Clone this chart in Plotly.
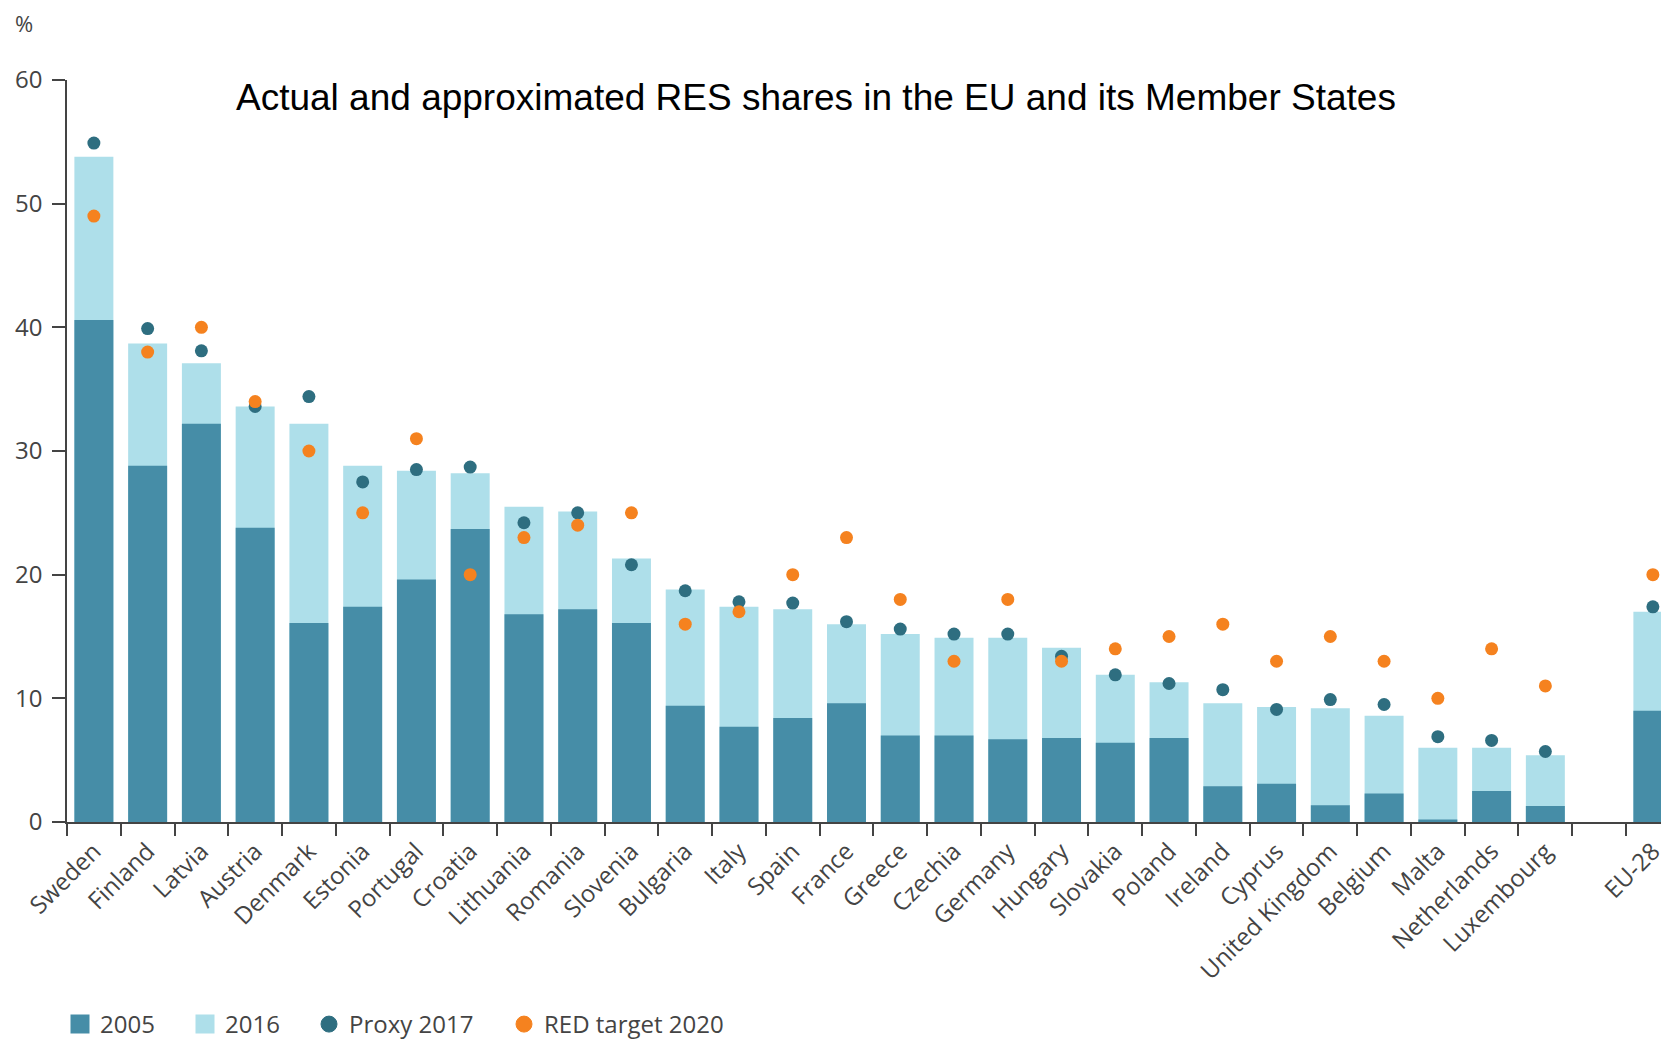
import plotly.graph_objects as go

countries = ["Sweden", "Finland", "Latvia", "Austria", "Denmark", "Estonia", "Portugal",
             "Croatia", "Lithuania", "Romania", "Slovenia", "Bulgaria", "Italy", "Spain",
             "France", "Greece", "Czechia", "Germany", "Hungary", "Slovakia", "Poland",
             "Ireland", "Cyprus", "United Kingdom", "Belgium", "Malta", "Netherlands",
             "Luxembourg", " ", "EU-28"]

res_2005 = [40.6, 28.8, 32.2, 23.8, 16.1, 17.4, 19.6, 23.7, 16.8, 17.2, 16.1, 9.4, 7.7, 8.4,
            9.6, 7.0, 7.0, 6.7, 6.8, 6.4, 6.8, 2.9, 3.1, 1.35, 2.3, 0.2, 2.5, 1.3, None, 9.0]

res_2016 = [53.8, 38.7, 37.1, 33.6, 32.2, 28.8, 28.4, 28.2, 25.5, 25.1, 21.3, 18.8, 17.4, 17.2,
            16.0, 15.2, 14.9, 14.9, 14.1, 11.9, 11.3, 9.6, 9.3, 9.2, 8.6, 6.0, 6.0, 5.4, None, 17.0]

proxy_2017 = [54.9, 39.9, 38.1, 33.6, 34.4, 27.5, 28.5, 28.7, 24.2, 25.0, 20.8, 18.7, 17.8, 17.7,
              16.2, 15.6, 15.2, 15.2, 13.4, 11.9, 11.2, 10.7, 9.1, 9.9, 9.5, 6.9, 6.6, 5.7, None, 17.4]

target_2020 = [49, 38, 40, 34, 30, 25, 31, 20, 23, 24, 25, 16, 17, 20, 23, 18, 13, 18, 13, 14,
               15, 16, 13, 15, 13, 10, 14, 11, None, 20]

y_ticks = [0, 10, 20, 30, 40, 50, 60]

C_2005 = "#468DA7"
C_2016 = "#AEDFEA"
C_PROXY = "#2E6E80"
C_TARGET = "#F5821F"

# page has an 8px body margin; compensate so the plot lands where the reference has it
OFF = 8
W, H = 1669 - OFF, 1041 - OFF
L, T = 67 - OFF, 80 - OFF
plot_h = 742
B = H - T - plot_h
plot_w = W - L


def px_x(xp):
    return (xp - 67) / plot_w


def px_y(yp):
    return (822 - yp) / plot_h


fig = go.Figure()
fig.add_trace(go.Bar(x=countries, y=res_2016, name="2016", marker_color=C_2016,
                     marker_line_width=0, showlegend=False))
fig.add_trace(go.Bar(x=countries, y=res_2005, name="2005", marker_color=C_2005,
                     marker_line_width=0, showlegend=False))
fig.add_trace(go.Scatter(x=countries, y=proxy_2017, name="Proxy 2017", mode="markers",
                         marker=dict(color=C_PROXY, size=13), showlegend=False))
fig.add_trace(go.Scatter(x=countries, y=target_2020, name="RED target 2020", mode="markers",
                         marker=dict(color=C_TARGET, size=13), showlegend=False))

# legend entries (one legend box per entry, placed like the reference)
legend_entries = [
    ("2005", C_2005, "square", "legend", 3),
    ("2016", C_2016, "square", "legend2", 3),
    ("Proxy 2017", C_PROXY, "circle", "legend3", 1),
    ("RED target 2020", C_TARGET, "circle", "legend4", 1),
]
for name, col, sym, lg, lw in legend_entries:
    fig.add_trace(go.Scatter(x=[None], y=[None], name=name, mode="markers",
                             marker=dict(color=col, size=16, symbol=sym,
                                         line=dict(color=col, width=lw)),
                             legend=lg, showlegend=True, hoverinfo="skip"))

legend_font = dict(family="Open Sans", size=24, color="#444444")
leg_y = px_y(1002)
leg_x_page = [60, 185, 309, 504]


def leg(xp):
    return dict(orientation="h", x=px_x(xp), xanchor="left", y=leg_y, yanchor="top",
                font=legend_font, bgcolor="rgba(0,0,0,0)", itemclick=False,
                itemdoubleclick=False, maxheight=200)


axis_font = dict(family="Open Sans", size=24, color="#444444")

fig.update_layout(
    width=W, height=H,
    margin=dict(l=L, r=0, t=T, b=B, pad=0, autoexpand=False),
    paper_bgcolor="white", plot_bgcolor="white",
    barmode="overlay", bargap=0.275,
    showlegend=True,
    legend=leg(leg_x_page[0]),
    legend2=leg(leg_x_page[1]),
    legend3=leg(leg_x_page[2]),
    legend4=leg(leg_x_page[3]),
    xaxis=dict(type="category", categoryorder="array", categoryarray=countries,
               range=[-0.5, 29.3], tickson="boundaries", ticks="outside", ticklen=12,
               tickcolor="#444444", tickwidth=1.5, showline=True, linecolor="#444444",
               linewidth=1.5, showgrid=False, tickangle=-45, tickfont=axis_font,
               ticklabelstandoff=4, zeroline=False, automargin=False),
    yaxis=dict(range=[0, 60], tickvals=y_ticks, ticks="outside", ticklen=13,
               tickcolor="#444444", tickwidth=1.5, showline=True, linecolor="#444444",
               linewidth=1.5, showgrid=False, zeroline=False, tickfont=axis_font,
               ticklabelstandoff=5, automargin=False),
    annotations=[
        dict(text="%", xref="paper", yref="paper", x=px_x(24), y=px_y(23),
             showarrow=False, xanchor="center", yanchor="middle",
             font=dict(family="Open Sans", size=22, color="#444444")),
        dict(text="Actual and approximated RES shares in the EU and its Member States",
             xref="paper", yref="paper", x=px_x(816), y=px_y(98),
             showarrow=False, xanchor="center", yanchor="middle",
             font=dict(family="Liberation Sans", size=37, color="#000000")),
    ],
)

fig.write_html("out.html")
